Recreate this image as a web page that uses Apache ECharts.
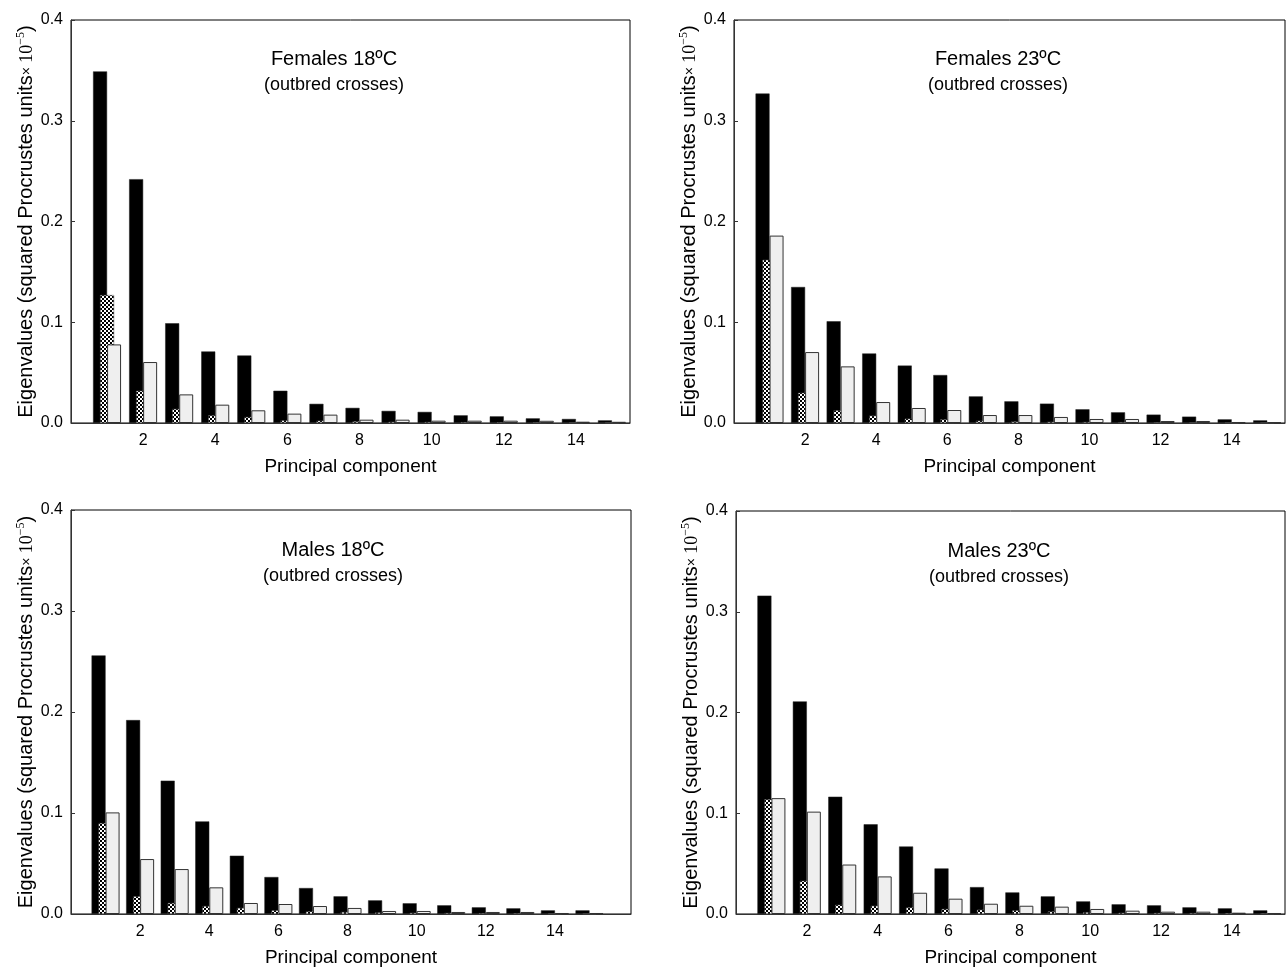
<!DOCTYPE html>
<html>
<head>
<meta charset="utf-8">
<script src="https://cdn.jsdelivr.net/npm/echarts@6/dist/echarts.min.js"></script>
<style>
html,body{margin:0;padding:0;background:#fff;}
#chart{width:1288px;height:968px;}
</style>
</head>
<body>
<div id="chart"></div>
<script>
// Principal components (x categories)
const components = [1, 2, 3, 4, 5, 6, 7, 8, 9, 10, 11, 12, 13, 14, 15];

// Panel titles
const panelTitles = ['Females 18ºC', 'Females 23ºC', 'Males 18ºC', 'Males 23ºC'];
const panelSubtitle = '(outbred crosses)';

// Tick labels
const yTicks = [0.0, 0.1, 0.2, 0.3, 0.4];
const xTickLabels = [2, 4, 6, 8, 10, 12, 14];

// Females 18ºC
const f18Black   = [0.349, 0.242, 0.099, 0.071, 0.067, 0.032, 0.019, 0.015, 0.012, 0.011, 0.0076, 0.0066, 0.0046, 0.0040, 0.0026];
const f18Hatched = [0.127, 0.032, 0.014, 0.0076, 0.006, 0.0026, 0.0023, 0.0017, 0.0012, 0.0010, 0.0008, 0.0007, 0.0006, 0.0005, 0.0004];
const f18Light   = [0.078, 0.0605, 0.0284, 0.0182, 0.0126, 0.0093, 0.0083, 0.0033, 0.0033, 0.0023, 0.0023, 0.0023, 0.0022, 0.0013, 0.0012];

// Females 23ºC
const f23Black   = [0.327, 0.135, 0.101, 0.069, 0.057, 0.0476, 0.0264, 0.0215, 0.0192, 0.0136, 0.0106, 0.0083, 0.0063, 0.0036, 0.0026];
const f23Hatched = [0.162, 0.030, 0.0126, 0.0073, 0.0043, 0.0036, 0.0023, 0.0015, 0.0012, 0.0010, 0.0008, 0.0006, 0.0005, 0.0004, 0.0003];
const f23Light   = [0.186, 0.0704, 0.0562, 0.0208, 0.0149, 0.0129, 0.0079, 0.0079, 0.0060, 0.0040, 0.0040, 0.0020, 0.0020, 0.0010, 0.0007];

// Males 18ºC
const m18Black   = [0.256, 0.192, 0.132, 0.0917, 0.0577, 0.0366, 0.0257, 0.0175, 0.0135, 0.0106, 0.0086, 0.0066, 0.0056, 0.0036, 0.0036];
const m18Hatched = [0.090, 0.0175, 0.0109, 0.0079, 0.0060, 0.0036, 0.0026, 0.0020, 0.0015, 0.0012, 0.0010, 0.0008, 0.0007, 0.0005, 0.0004];
const m18Light   = [0.1006, 0.0544, 0.0445, 0.0264, 0.0109, 0.0099, 0.0079, 0.0060, 0.0030, 0.0030, 0.0020, 0.0020, 0.0020, 0.0010, 0.0010];

// Males 23ºC
const m23Black   = [0.316, 0.211, 0.1164, 0.089, 0.067, 0.0452, 0.0267, 0.0214, 0.0175, 0.0125, 0.0096, 0.0086, 0.0066, 0.0056, 0.0036];
const m23Hatched = [0.1138, 0.033, 0.0092, 0.0082, 0.0066, 0.0050, 0.0043, 0.0036, 0.0025, 0.0018, 0.0012, 0.0010, 0.0009, 0.0008, 0.0006];
const m23Light   = [0.115, 0.1016, 0.0491, 0.0373, 0.0211, 0.0152, 0.0102, 0.0082, 0.0073, 0.0050, 0.0033, 0.0023, 0.0023, 0.0013, 0.0010];

const panelData = [
  [f18Black, f18Hatched, f18Light],
  [f23Black, f23Hatched, f23Light],
  [m18Black, m18Hatched, m18Light],
  [m23Black, m23Hatched, m23Light]
];

// checkerboard pattern for the middle series
function makeChecker() {
  const c = document.createElement('canvas');
  c.width = 4; c.height = 4;
  const g = c.getContext('2d');
  g.fillStyle = '#ffffff'; g.fillRect(0, 0, 4, 4);
  g.fillStyle = '#000000';
  g.fillRect(0, 0, 2, 2); g.fillRect(2, 2, 2, 2);
  return c;
}
const checker = makeChecker();

const FONT = '"Liberation Sans", Arial, sans-serif';
const SERIF = '"Liberation Serif", "DejaVu Serif", serif';

const layouts = [
  {left: 71,  top: 20,  width: 559, height: 403, xMax: 15.5, tx: 334, ty: 49},
  {left: 734, top: 20,  width: 561, height: 403, xMax: 15.5, tx: 998, ty: 49},
  {left: 71,  top: 510, width: 560, height: 404, xMax: 16.2, tx: 333, ty: 540},
  {left: 736, top: 511, width: 561, height: 404, xMax: 15.5, tx: 999, ty: 541}
];

const grids = [], xAxes = [], yAxes = [], series = [], gfx = [];

layouts.forEach((L, i) => {
  grids.push({left: L.left, top: L.top, width: L.width, height: L.height,
    show: true, borderColor: '#000', borderWidth: 1, backgroundColor: 'transparent'});
  xAxes.push({
    type: 'value', gridIndex: i, min: 0, max: L.xMax, interval: 2,
    name: 'Principal component', nameLocation: 'middle', nameGap: 34,
    nameTextStyle: {fontFamily: FONT, fontSize: 19, color: '#000'},
    axisLine: {show: true, onZero: false, lineStyle: {color: '#333', width: 1}},
    axisTick: {show: false},
    splitLine: {show: false},
    axisLabel: {fontFamily: FONT, fontSize: 16, color: '#000', margin: 10,
      formatter: v => (xTickLabels.indexOf(v) >= 0 ? String(v) : '')}
  });
  yAxes.push({
    type: 'value', gridIndex: i, min: 0, max: 0.4, interval: 0.1,
    name: '{a|Eigenvalues (squared Procrustes units}{x|×}{b| 10}{s|−5}{a|)}',
    nameLocation: 'middle', nameRotate: 90, nameGap: 31,
    nameTextStyle: {
      color: '#000',
      rich: {
        a: {fontFamily: FONT, fontSize: 20, color: '#000', lineHeight: 24},
        x: {fontFamily: FONT, fontSize: 14, color: '#000', lineHeight: 24},
        b: {fontFamily: SERIF, fontSize: 18, color: '#000', lineHeight: 24},
        s: {fontFamily: SERIF, fontSize: 12, color: '#000', lineHeight: 24, verticalAlign: 'top'}
      }
    },
    axisLine: {show: true, lineStyle: {color: '#333', width: 1}},
    axisTick: {show: true, inside: true, length: 4, lineStyle: {color: '#333'}},
    splitLine: {show: false},
    axisLabel: {fontFamily: FONT, fontSize: 16, color: '#000', margin: 8,
      formatter: v => (yTicks.some(t => Math.abs(t - v) < 1e-9) ? v.toFixed(1) : '')}
  });
  const [blk, hat, lig] = panelData[i];
  const mk = arr => components.map((c, k) => [c, arr[k]]);
  series.push({
    type: 'bar', xAxisIndex: i, yAxisIndex: i, data: mk(blk), barWidth: 14, barGap: '-50%',
    itemStyle: {color: '#000', borderColor: '#222', borderWidth: 0.5}, silent: true, z: 2
  });
  series.push({
    type: 'bar', xAxisIndex: i, yAxisIndex: i, data: mk(hat), barWidth: 14, barGap: '-50%',
    itemStyle: {color: {image: checker, repeat: 'repeat'}, borderColor: '#555', borderWidth: 0.5}, silent: true, z: 3
  });
  series.push({
    type: 'bar', xAxisIndex: i, yAxisIndex: i, data: mk(lig), barWidth: 14, barGap: '-50%',
    itemStyle: {color: '#efefef', borderColor: '#333', borderWidth: 1}, silent: true, z: 4
  });
  gfx.push({type: 'text', x: L.tx, y: L.ty, style: {text: panelTitles[i], font: '20px ' + FONT, fill: '#000', align: 'center', verticalAlign: 'top'}});
  gfx.push({type: 'text', x: L.tx, y: L.ty + 27, style: {text: panelSubtitle, font: '18px ' + FONT, fill: '#000', align: 'center', verticalAlign: 'top'}});
});

const chart = echarts.init(document.getElementById('chart'), null, {renderer: 'canvas'});
chart.setOption({
  animation: false,
  backgroundColor: '#fff',
  grid: grids,
  xAxis: xAxes,
  yAxis: yAxes,
  series: series,
  graphic: gfx
});
</script>
</body>
</html>
